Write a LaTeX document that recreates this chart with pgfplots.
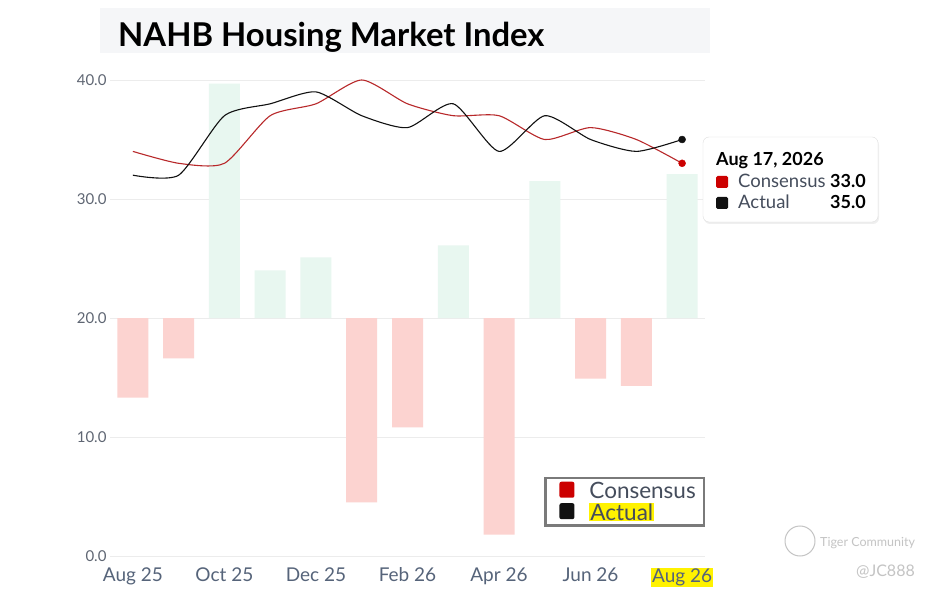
\documentclass[border=0pt]{standalone}
\usepackage{pgfplots}
\pgfplotsset{compat=1.18}
\usepackage{pgfplotstable}
\usepackage{fontspec}
\setmainfont{Lato}
\usetikzlibrary{shadows}
\definecolor{titlebg}{HTML}{F5F6F8}
\definecolor{bargreen}{HTML}{E8F7F0}
\definecolor{barred}{HTML}{FCD3D0}
\definecolor{consline}{HTML}{B8282A}
\definecolor{consmark}{HTML}{CC0000}
\definecolor{actline}{HTML}{111111}
\definecolor{tickgray}{HTML}{5F6673}
\definecolor{xlabgray}{HTML}{56647A}
\definecolor{gridgray}{HTML}{ECECEC}
\definecolor{leggray}{HTML}{7A7A7A}
\definecolor{legtext}{HTML}{454D5C}
\definecolor{hlyellow}{HTML}{FFF200}
\definecolor{wmgray}{HTML}{C4C4C4}

\pgfplotstableread{
x base up down
0 13.3 0 6.7
1 16.6 0 3.4
2 20 19.7 0
3 20 4.0 0
4 20 5.1 0
5 4.5 0 15.5
6 10.8 0 9.2
7 20 6.1 0
8 1.8 0 18.2
9 20 11.5 0
10 14.9 0 5.1
11 14.3 0 5.7
12 20 12.1 0
}\bars

\pgfplotstableread{
x cons act
0 34 32
1 33 32
2 33 37
3 37 38
4 38 39
5 40 37
6 38 36
7 37 38
8 37 34
9 35 37
10 36 35
11 35 34
12 33 35
}\lines

\begin{document}
\begin{tikzpicture}
\path[fill=white] (0pt,0pt) rectangle (934pt,592pt);
% title
\fill[titlebg] (100pt,539pt) rectangle (710pt,584pt);
\node[anchor=base west, inner sep=0pt, font=\bfseries\fontsize{32.8}{38}\selectfont] at (118pt,545pt) {NAHB Housing Market Index};

\begin{axis}[
  at={(110pt,36pt)}, anchor=south west, scale only axis,
  width=595pt, height=476pt,
  xmin=-0.5, xmax=12.5, ymin=0, ymax=40,
  axis line style={draw=none}, tick style={draw=none},
  ymajorgrids, grid style={draw=gridgray, line width=0.8pt},
  ytick={0,10,20,30,40},
  yticklabel style={font=\fontsize{15}{18}\selectfont, text=tickgray,
    /pgf/number format/.cd, fixed, fixed zerofill, precision=1, assume math mode=true},
  xtick={0,2,4,6,8,10,12},
  xticklabels={Aug 25, Oct 25, Dec 25, Feb 26, Apr 26, Jun 26, {\setlength{\fboxsep}{1pt}\colorbox{hlyellow}{Aug 26}}},
  xticklabel style={font=\fontsize{19}{22}\selectfont, text=xlabgray, yshift=-8pt},
  ybar stacked, bar width=31pt,
]
\addplot[fill=none, draw=none] table[x=x, y=base]{\bars};
\addplot[fill=bargreen, draw=none] table[x=x, y=up]{\bars};
\addplot[fill=barred, draw=none] table[x=x, y=down]{\bars};
\end{axis}

\begin{axis}[
  at={(110pt,36pt)}, anchor=south west, scale only axis,
  width=595pt, height=476pt,
  xmin=-0.5, xmax=12.5, ymin=0, ymax=40,
  axis line style={draw=none}, xtick=\empty, ytick=\empty,
  clip=false,
  legend style={at={(1,0.061)}, anchor=south east, draw=leggray, line width=2.5pt,
    fill=white, font=\fontsize{22.5}{24}\selectfont, text=legtext,
    inner xsep=6pt, inner ysep=2pt, row sep=-1pt, cells={anchor=west},
    /tikz/every odd column/.append style={column sep=6pt}},
  legend cell align=left,
]
\addlegendimage{legend image code/.code={\path[draw=none, fill=none] (0pt,0pt) -- (30pt,0pt); \fill[consmark, draw=none, rounded corners=2pt] (8pt,-7pt) rectangle (23pt,9pt);}}
\addlegendentry{Consensus}
\addlegendimage{legend image code/.code={\path[draw=none, fill=none] (0pt,0pt) -- (30pt,0pt); \fill[actline, draw=none, rounded corners=2pt] (8pt,-7pt) rectangle (23pt,9pt);}}
\addlegendentry{{\setlength{\fboxsep}{1pt}\colorbox{hlyellow}{Actual}}}
\addplot[consline, line width=1.1pt, smooth, tension=0.4, forget plot] table[x=x, y=cons]{\lines};
\addplot[actline, line width=1.1pt, smooth, tension=0.4, forget plot] table[x=x, y=act]{\lines};
\addplot[only marks, mark=*, mark size=3.5pt, color=consmark, forget plot] coordinates {(12,33)};
\addplot[only marks, mark=*, mark size=3.5pt, color=actline, forget plot] coordinates {(12,35)};
\end{axis}

% tooltip
\draw[gray!25, fill=white, rounded corners=6pt, drop shadow={opacity=0.12, shadow xshift=1pt, shadow yshift=-2pt}] (703pt,370pt) rectangle (878pt,455pt);
\node[anchor=base west, inner sep=0pt, font=\bfseries\fontsize{18}{21}\selectfont] at (716pt,426pt) {Aug 17, 2026};
\fill[consmark, rounded corners=1.5pt] (716pt,404pt) rectangle (728pt,416pt);
\node[anchor=base west, inner sep=0pt, font=\fontsize{18.5}{21}\selectfont, text=legtext] at (738pt,404pt) {Consensus};
\node[anchor=base east, inner sep=0pt, font=\bfseries\fontsize{18}{21}\selectfont] at (866pt,404pt) {33.0};
\fill[actline, rounded corners=1.5pt] (716pt,383pt) rectangle (728pt,395pt);
\node[anchor=base west, inner sep=0pt, font=\fontsize{18.5}{21}\selectfont, text=legtext] at (738pt,383pt) {Actual};
\node[anchor=base east, inner sep=0pt, font=\bfseries\fontsize{18}{21}\selectfont] at (866pt,383pt) {35.0};

% watermark
\draw[wmgray, line width=1pt] (800pt,51pt) circle (15pt);
\node[anchor=base west, inner sep=0pt, font=\fontsize{12.5}{15}\selectfont, text=wmgray] at (820pt,46pt) {Tiger Community};
\node[anchor=base east, inner sep=0pt, font=\fontsize{16}{18}\selectfont, text=wmgray] at (915pt,16pt) {@JC888};
\end{tikzpicture}
\end{document}
